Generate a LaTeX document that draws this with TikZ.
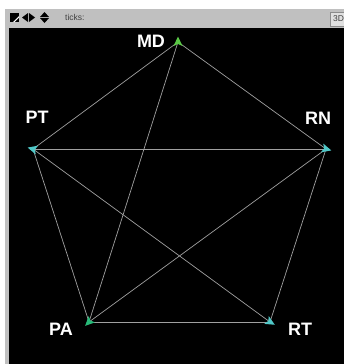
\documentclass[tikz,border=0pt]{standalone}
\usepackage{fontspec}
\setmainfont{Liberation Sans}
\begin{document}
\begin{tikzpicture}[x=1pt, y=-1pt]
    \definecolor{barColour}{RGB}{192,192,192}
    \definecolor{linkColour}{RGB}{160,160,160}
    \definecolor{turtleGreen}{RGB}{90,200,70}
    \definecolor{turtleCyan}{RGB}{80,200,200}
    \definecolor{turtleTeal}{RGB}{40,185,120}

    \tikzset{
        agentLabel/.style={text=white, font=\fontsize{18}{18}\selectfont\bfseries, inner sep=0pt},
        link/.style={draw=linkColour, line width=0.7pt}
    }

    \useasboundingbox (0,0) rectangle (344,364);

    % Draw window
    \fill[white] (0,0) rectangle (344,364);
    \fill[barColour] (5,9) rectangle (344,364);
    \fill[black] (9,28) rectangle (344,364);

    % Draw tool bar icons
    \fill[black] (10,13) rectangle (19,22);
    \fill[white] (13,22) -- (19,16) -- (19,17.5) -- (14.5,22) -- cycle;
    \fill[black] (22,17.5) -- (28,13) -- (28,22) -- cycle;
    \fill[black] (35,17.5) -- (29,13) -- (29,22) -- cycle;
    \fill[black] (44.5,12) -- (49,17) -- (40,17) -- cycle;
    \fill[black] (44.5,23) -- (49,18) -- (40,18) -- cycle;
    \node[anchor=west, text=black!75, font=\fontsize{8.5}{8.5}\selectfont, inner sep=0pt] (ticks) at (65,17.5) {ticks:};
    \begin{scope}
        \clip (320,9) rectangle (344,28);
        \draw[fill=white!88!black, draw=black!45] (330,12) rectangle (352,26);
        \node[anchor=west, text=black!75, font=\fontsize{8.5}{8.5}\selectfont, inner sep=0pt] (threeD) at (333,19) {3D};
    \end{scope}

    % Define turtle positions
    \coordinate (MD) at (178,42);
    \coordinate (PT) at (33,149);
    \coordinate (RN) at (326,149);
    \coordinate (PA) at (89,322);
    \coordinate (RT) at (270,322);

    % Draw links
    \foreach \a/\b in {MD/PT, MD/RN, MD/PA, PT/RN, PT/PA, PT/RT, RN/PA, RN/RT, PA/RT}
        \draw[link] (\a) -- (\b);

    % Draw turtles
    \foreach \t/\h/\c in {MD/0/turtleGreen, PT/285/turtleCyan, RN/105/turtleCyan, PA/225/turtleTeal, RT/120/turtleCyan}
        \fill[\c, shift={(\t)}, rotate=-\h] (0,-5.5) -- (-4.5,4) -- (0,2) -- (4.5,4) -- cycle;

    % Label turtles
    \node[agentLabel] (labelMD) at (151,41.5) {MD};
    \node[agentLabel] (labelPT) at (37,117) {PT};
    \node[agentLabel] (labelRN) at (318,118.5) {RN};
    \node[agentLabel] (labelPA) at (61,329.5) {PA};
    \node[agentLabel] (labelRT) at (300,329.5) {RT};

\end{tikzpicture}
\end{document}
